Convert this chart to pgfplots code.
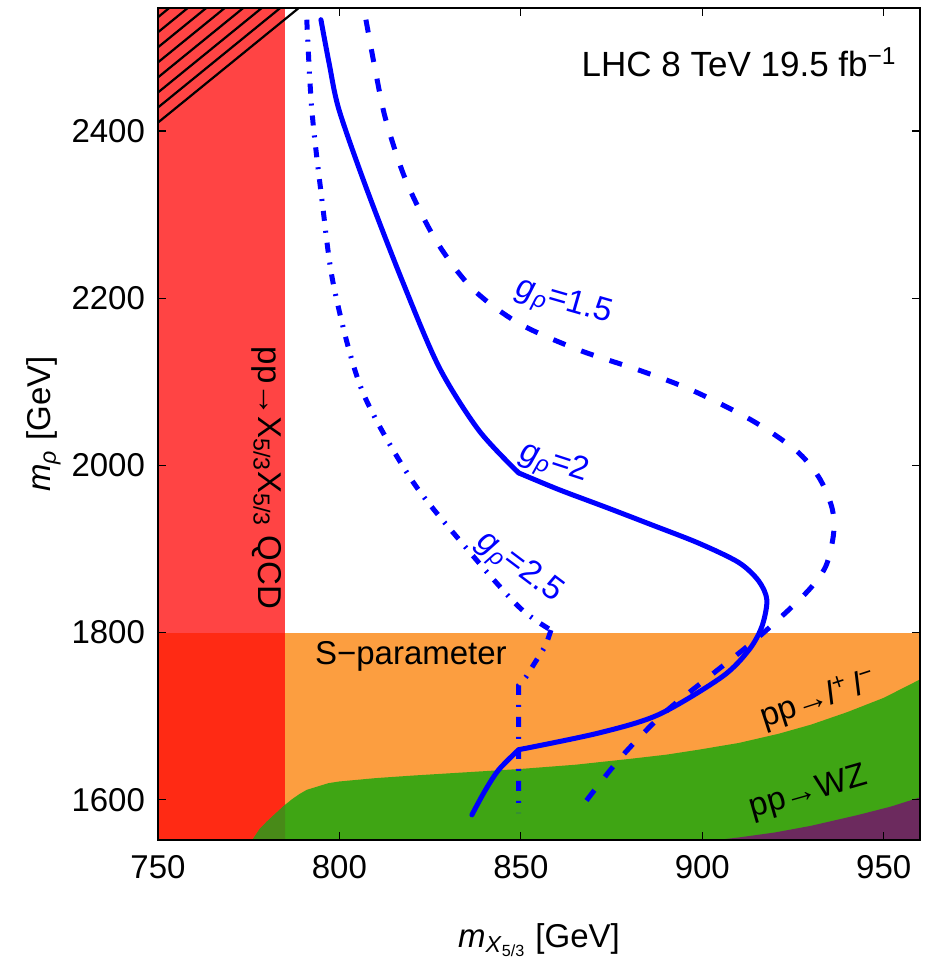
\documentclass[border=0pt]{standalone}
\usepackage{pgfplots}
\pgfplotsset{compat=1.18}
\usepackage{fontspec}
\setmainfont{Liberation Sans}

\definecolor{qcdred}{RGB}{255,68,68}
\definecolor{qcdredS}{RGB}{255,42,20}
\definecolor{sorange}{RGB}{252,158,64}
\definecolor{wzgreen}{RGB}{63,165,20}
\definecolor{wzolive}{RGB}{72,138,24}
\definecolor{wzpurple}{RGB}{108,42,94}
\definecolor{gblue}{RGB}{0,0,255}

\begin{document}
\begin{tikzpicture}
\useasboundingbox (-79pt,-58.5pt) rectangle (383.5pt,420pt);
\begin{axis}[
  scale only axis,
  width=381pt, height=416pt,
  xmin=750, xmax=960, ymin=1552, ymax=2547,
  xtick={750,800,850,900,950},
  ytick={1600,1800,2000,2200,2400},
  font=\fontsize{16.5}{19}\selectfont,
  /pgf/number format/assume math mode=true,
  /pgf/number format/set thousands separator={},
  tick align=inside,
  major tick length=4pt,
  tick style={black, line width=0.6pt},
  axis line style={line width=1pt},
  axis on top,
  yticklabel style={xshift=-3pt},
  xticklabel style={yshift=-4pt},
  xlabel={\textit{m}\textsubscript{\textit{X}\textsubscript{5/3}} [GeV]},
  ylabel={\textit{m}\textsubscript{\textit{ρ}} [GeV]},
  xlabel style={at={(axis description cs:0.5,-0.12)}, anchor=center},
  ylabel style={at={(axis description cs:-0.15,0.5)}, anchor=center},
]
% QCD pair production excluded region
\addplot[fill=qcdred, draw=none] coordinates {(750,1552) (785,1552) (785,2547) (750,2547)} -- cycle;
% S-parameter
\addplot[fill=sorange, draw=none] coordinates {(785,1552) (960,1552) (960,1800) (785,1800)} -- cycle;
\addplot[fill=qcdredS, draw=none] coordinates {(750,1552) (785,1552) (785,1800) (750,1800)} -- cycle;
% pp -> l+l-  /  WZ
\addplot[fill=wzgreen, draw=none] coordinates {
  (776,1552) (778,1565) (780,1574) (782,1582) (785,1594) (787,1601) (789,1607)
  (791,1612) (794,1616) (797,1620) (800,1622) (810,1626) (820,1629) (835,1633)
  (850,1637) (865,1642) (880,1649) (890,1654) (899,1660) (910,1668) (921,1679)
  (930,1690) (940,1705) (950,1722) (960,1744) (960,1552)} -- cycle;
\addplot[fill=wzolive, draw=none] coordinates {
  (776,1552) (778,1565) (780,1574) (782,1582) (785,1594) (785,1552)} -- cycle;
\addplot[fill=wzpurple, draw=none] coordinates {
  (904,1552) (910,1555) (920,1561) (930,1569) (943,1582) (952,1592) (960,1603) (960,1552)} -- cycle;

% hatched corner
\addplot[black, line width=1.1pt] coordinates {(750,2410) (788.8,2547)};
\addplot[black, line width=1.1pt] coordinates {(750,2428) (783.7,2547)};
\addplot[black, line width=1.1pt] coordinates {(750,2446) (778.6,2547)};
\addplot[black, line width=1.1pt] coordinates {(750,2464) (773.5,2547)};
\addplot[black, line width=1.1pt] coordinates {(750,2482) (768.4,2547)};
\addplot[black, line width=1.1pt] coordinates {(750,2500) (763.3,2547)};
\addplot[black, line width=1.1pt] coordinates {(750,2518) (758.2,2547)};
\addplot[black, line width=1.1pt] coordinates {(750,2536) (753.1,2547)};

% g_rho = 2
\addplot[gblue, line width=2.5pt, line cap=round, smooth] coordinates {
  (794.9,2533) (797.2,2480) (799.9,2425) (807.3,2333) (817.2,2222)
  (827.4,2118) (838.4,2042) (849.4,1991)};
\addplot[gblue, line width=2.5pt, line cap=round, smooth] coordinates {
  (849.4,1991) (860.5,1971) (873.4,1950) (886,1929) (899,1907) (910,1884)
  (915.5,1862) (917.8,1839) (916.4,1807) (912.8,1779) (905.4,1747)
  (888,1702) (871.5,1680) (849.4,1660)};
\addplot[gblue, line width=2.5pt, line cap=round, smooth] coordinates {
  (849.4,1660) (843.9,1636) (840,1610) (836.5,1582)};
% g_rho = 1.5
\addplot[gblue, line width=2.5pt, dash pattern=on 6.5pt off 8.5pt, smooth] coordinates {
  (807.3,2533) (810,2470) (812.8,2413) (818.3,2341) (826.6,2269) (836.5,2212)
  (849.4,2170) (866,2138) (882.5,2114) (897.1,2090) (913.6,2054)
  (925.8,2018) (932.1,1986) (935.7,1950) (936.2,1919) (934,1879) (928.5,1847)
  (915.6,1795) (901.8,1747) (889,1702)
  (877,1648) (865.4,1584)};
% g_rho = 2.5
\addplot[gblue, line width=2.5pt, dash pattern=on 5pt off 5pt on 1pt off 5pt, smooth] coordinates {
  (791,2533) (792.4,2425) (795.2,2317) (798.5,2213) (806.2,2090)
  (820,1982) (834.8,1902) (849.4,1831) (858.3,1803)};
\addplot[gblue, line width=2.5pt, dash pattern=on 5pt off 5pt on 1pt off 5pt] coordinates {
  (858.3,1803) (856.9,1785) (851.4,1747) (849.4,1737) (849.4,1584)};

% labels
\node[rotate=-90] at (axis cs:780,1985) {pp→X\textsubscript{5/3}X\textsubscript{5/3} QCD};
\node at (axis cs:819.7,1771) {S−parameter};
\node[rotate=18] at (axis cs:932,1720) {pp→\textit{l}\textsuperscript{+}\,\textit{l}\textsuperscript{−}};
\node[rotate=16] at (axis cs:929.3,1608) {pp→WZ};
\node[anchor=east, font=\fontsize{17.5}{20}\selectfont] at (axis cs:955.5,2482) {LHC 8 TeV 19.5 fb\textsuperscript{−1}};
\node[gblue, rotate=-16] at (axis cs:861.8,2194) {\textit{g}\textsubscript{\textit{ρ}}=1.5};
\node[gblue, rotate=-18] at (axis cs:859,2002) {\textit{g}\textsubscript{\textit{ρ}}=2};
\node[gblue, rotate=-37] at (axis cs:849.4,1877) {\textit{g}\textsubscript{\textit{ρ}}=2.5};
\end{axis}
\end{tikzpicture}
\end{document}
